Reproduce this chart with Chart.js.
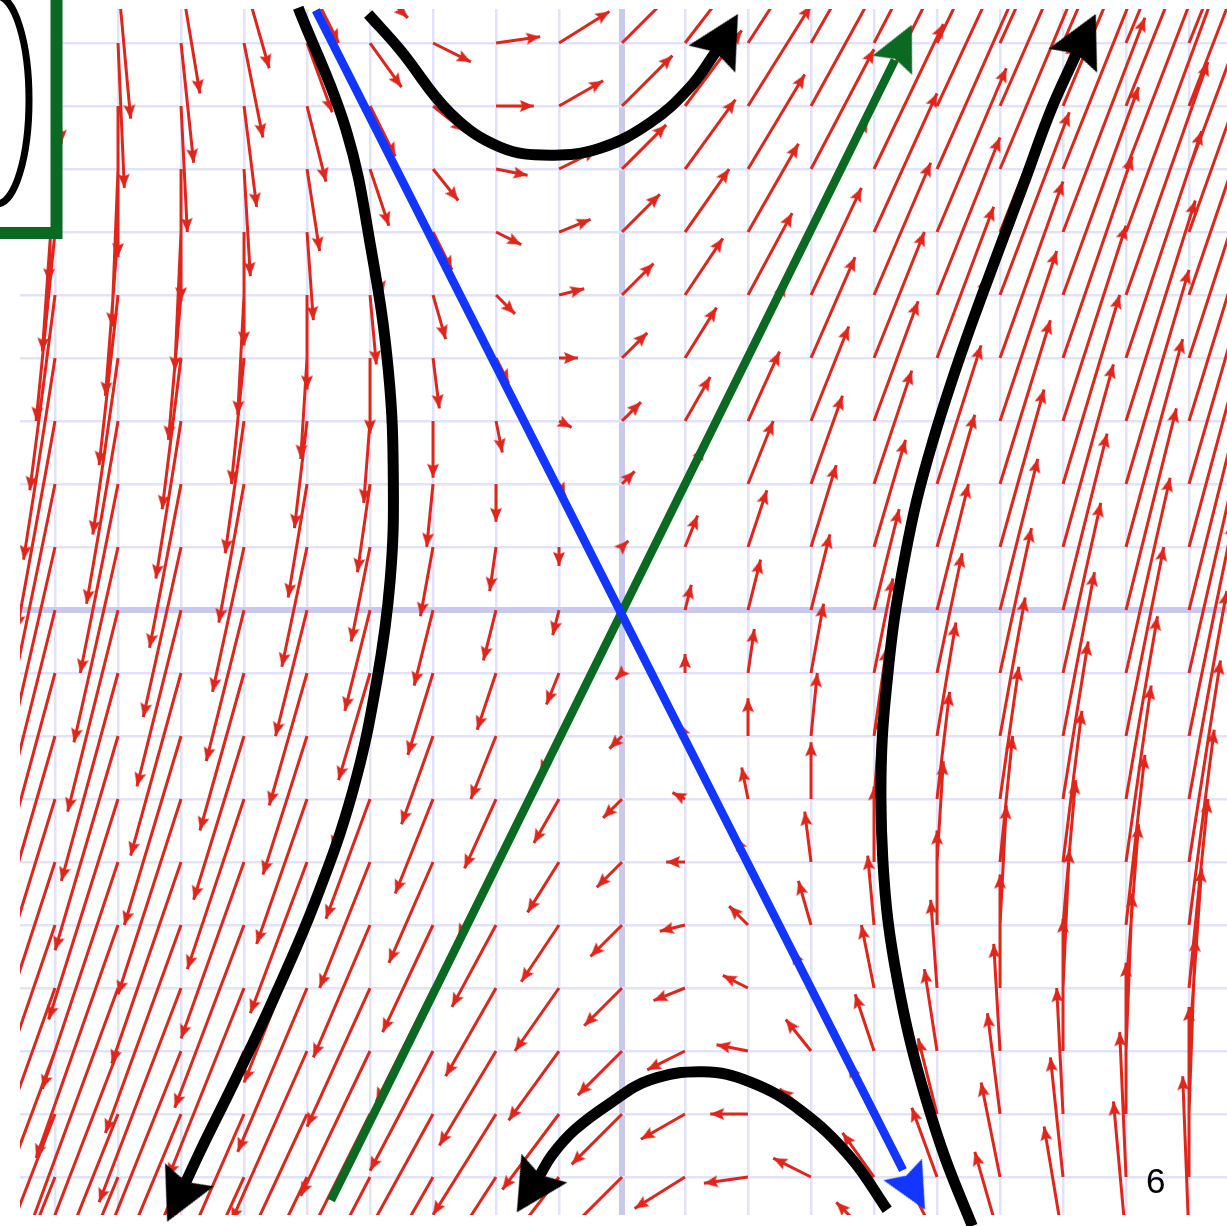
<!DOCTYPE html>
<html>
<head>
<meta charset="utf-8">
<title>Saddle point phase portrait</title>
<script src="https://cdn.jsdelivr.net/npm/chart.js@4.4.1/dist/chart.umd.min.js"></script>
<style>
  html, body { margin: 0; padding: 0; background: #ffffff; }
  canvas { display: block; }
</style>
</head>
<body>
<canvas id="phase" width="1227" height="1226"></canvas>
<script>
// Linear system x' = A x  (eigenvalues 3 and -1, eigenvectors (1,2) and (1,-2))
const systemMatrix = [[1, 1], [4, 1]];
// direction-field arrows are drawn as 0.1 * (x', y')
const arrowScale = 0.1;
// lattice of grid lines / arrow tails
const gridValues = [-10, -9, -8, -7, -6, -5, -4, -3, -2, -1, 0, 1, 2, 3, 4, 5, 6, 7, 8, 9, 10];
const xRange = [-9.556, 9.603];
const yRange = [-9.603, 9.54];

// unstable eigen-direction (green) and stable eigen-direction (blue)
const greenLine = [{ x: -4.62, y: -9.37 }, { x: 4.33, y: 8.73 }];
const greenTip = { x: 4.60, y: 9.29 };
const blueLine = [{ x: -4.86, y: 9.52 }, { x: 4.46, y: -8.89 }];
const blueTip = { x: 4.81, y: -9.52 };

// sketched trajectories
const topCurve = [
  { x: -4.03, y: 9.46 }, { x: -3.52, y: 8.89 }, { x: -2.73, y: 7.89 }, { x: -1.94, y: 7.35 },
  { x: -1.14, y: 7.22 }, { x: -0.35, y: 7.33 }, { x: 0.44, y: 7.73 }, { x: 1.08, y: 8.30 },
  { x: 1.51, y: 8.89 }
];
const topTip = { x: 1.84, y: 9.46 };

const leftCurve = [
  { x: -5.14, y: 9.56 }, { x: -4.38, y: 7.62 }, { x: -3.98, y: 5.71 }, { x: -3.71, y: 3.81 },
  { x: -3.63, y: 2.06 }, { x: -3.68, y: 0.48 }, { x: -3.89, y: -1.11 }, { x: -4.27, y: -2.86 },
  { x: -4.86, y: -4.60 }, { x: -5.54, y: -6.19 }, { x: -6.14, y: -7.46 }, { x: -6.70, y: -8.60 },
  { x: -6.95, y: -9.14 }
];
const leftTip = { x: -7.22, y: -9.71 };

const rightCurve = [
  { x: 5.56, y: -9.78 }, { x: 5.14, y: -8.73 }, { x: 4.83, y: -7.78 }, { x: 4.57, y: -6.83 },
  { x: 4.37, y: -5.87 }, { x: 4.22, y: -4.92 }, { x: 4.14, y: -3.97 }, { x: 4.11, y: -3.02 },
  { x: 4.13, y: -2.06 }, { x: 4.21, y: -1.11 }, { x: 4.32, y: -0.16 }, { x: 4.48, y: 0.79 },
  { x: 4.68, y: 1.75 }, { x: 4.94, y: 2.70 }, { x: 5.24, y: 3.65 }, { x: 5.57, y: 4.60 },
  { x: 5.98, y: 5.71 }, { x: 6.40, y: 6.83 }, { x: 6.81, y: 7.94 }, { x: 7.24, y: 8.89 }
];
const rightTip = { x: 7.52, y: 9.46 };

const bottomCurve = [
  { x: 4.21, y: -9.52 }, { x: 3.62, y: -8.68 }, { x: 2.83, y: -7.94 }, { x: 2.03, y: -7.49 },
  { x: 1.29, y: -7.33 }, { x: 0.44, y: -7.46 }, { x: -0.19, y: -7.83 }, { x: -0.75, y: -8.25 },
  { x: -1.11, y: -8.65 }, { x: -1.32, y: -9.00 }
];
const bottomTip = { x: -1.67, y: -9.56 };

// ---- build the direction field from the matrix ----
const fieldShafts = [];
const fieldHeads = [];
for (const x0 of gridValues) {
  for (const y0 of gridValues) {
    const u = systemMatrix[0][0] * x0 + systemMatrix[0][1] * y0;
    const v = systemMatrix[1][0] * x0 + systemMatrix[1][1] * y0;
    if (u === 0 && v === 0) continue;
    const x1 = x0 + arrowScale * u;
    const y1 = y0 + arrowScale * v;
    fieldShafts.push({ x: x0, y: y0 }, { x: x1, y: y1 }, { x: x1, y: null });
    fieldHeads.push({ x: x1, y: y1, dx: u, dy: v });
  }
}

// arrow tip with direction taken from the last drawn point of a path
function tipFrom(path, tip) {
  const last = path[path.length - 1];
  return { x: tip.x, y: tip.y, dx: tip.x - last.x, dy: tip.y - last.y };
}

// arrowhead sprite: tip at the sprite centre, pointing up
function headImage(color, len, wid, notch) {
  let s = Math.ceil(2 * len + 4);
  if (s % 2) s += 1;
  const cv = document.createElement('canvas');
  cv.width = s; cv.height = s;
  const g = cv.getContext('2d');
  const c = s / 2;
  g.fillStyle = color;
  g.beginPath();
  g.moveTo(c, c);
  g.lineTo(c + wid / 2, c + len);
  g.lineTo(c, c + len - notch);
  g.lineTo(c - wid / 2, c + len);
  g.closePath();
  g.fill();
  return cv;
}

const RED = '#e0251b';
const BLUE = '#1235ff';
const GREEN = '#0b6a22';
const BLACK = '#000000';

const redHead = headImage(RED, 14, 12, 2.5);
const blackHead = headImage(BLACK, 52, 54, 8);
const blueHead = headImage(BLUE, 46, 44, 7);
const greenHead = headImage(GREEN, 45, 44, 7);

function headAngle(ctx) {
  const r = ctx.raw;
  if (!r) return 0;
  const xs = ctx.chart.scales.x, ys = ctx.chart.scales.y;
  const dxp = xs.getPixelForValue(r.x) - xs.getPixelForValue(r.x - r.dx);
  const dyp = ys.getPixelForValue(r.y) - ys.getPixelForValue(r.y - r.dy);
  return Math.atan2(dxp, -dyp) * 180 / Math.PI;
}

function curveSet(data, color, width, order) {
  return {
    type: 'line', data, borderColor: color, borderWidth: width, pointRadius: 0,
    tension: 0.4, capBezierPoints: false, fill: false, clip: false, order
  };
}
function headSet(data, img, order, clip) {
  return {
    type: 'scatter', data, showLine: false, pointStyle: img, pointRadius: clip === false ? 40 : 8,
    pointRotation: headAngle, clip: clip === false ? false : undefined, order
  };
}

// page marks around the plot: framed bracket at top-left and page number
const pageMarks = {
  id: 'pageMarks',
  afterDraw(chart) {
    const g = chart.ctx;
    g.save();
    g.fillStyle = '#ffffff';
    g.fillRect(0, 0, 57, 233);
    g.strokeStyle = '#000000';
    g.lineWidth = 7;
    g.beginPath();
    g.ellipse(-3, 100, 32, 104, 0, -Math.PI / 2, Math.PI / 2);
    g.stroke();
    g.strokeStyle = GREEN;
    g.lineWidth = 12;
    g.lineJoin = 'miter';
    g.beginPath();
    g.moveTo(56.5, 0);
    g.lineTo(56.5, 233);
    g.lineTo(0, 233);
    g.stroke();
    g.fillStyle = '#000000';
    g.font = '35px "Liberation Sans", Arial, sans-serif';
    g.textBaseline = 'alphabetic';
    g.fillText('6', 1146, 1193);
    g.restore();
  }
};

function axisOptions(range) {
  return {
    type: 'linear',
    min: range[0],
    max: range[1],
    ticks: { display: false },
    border: { display: false },
    grid: {
      drawTicks: false,
      color: (c) => (c.tick && c.tick.value === 0 ? '#c8c8f1' : '#e2e2f8'),
      lineWidth: (c) => (c.tick && c.tick.value === 0 ? 6 : 2.5)
    },
    afterBuildTicks: (scale) => {
      scale.ticks = gridValues
        .filter((v) => v >= scale.min && v <= scale.max)
        .map((v) => ({ value: v }));
    }
  };
}

new Chart(document.getElementById('phase'), {
  type: 'scatter',
  data: {
    datasets: [
      headSet([tipFrom(topCurve, topTip), tipFrom(leftCurve, leftTip),
               tipFrom(rightCurve, rightTip), tipFrom(bottomCurve, bottomTip)], blackHead, 0, false),
      curveSet(topCurve, BLACK, 11, 1),
      curveSet(leftCurve, BLACK, 11, 1),
      curveSet(rightCurve, BLACK, 11, 1),
      curveSet(bottomCurve, BLACK, 11, 1),
      headSet([tipFrom(blueLine, blueTip)], blueHead, 2, false),
      curveSet(blueLine, BLUE, 8.5, 3),
      headSet([tipFrom(greenLine, greenTip)], greenHead, 4, false),
      curveSet(greenLine, GREEN, 8.5, 5),
      headSet(fieldHeads, redHead, 10),
      {
        type: 'line', data: fieldShafts, borderColor: RED, borderWidth: 3,
        pointRadius: 0, tension: 0, spanGaps: false, fill: false, order: 11
      }
    ]
  },
  options: {
    responsive: false,
    animation: false,
    devicePixelRatio: 1,
    events: [],
    layout: { autoPadding: false, padding: { left: 20, right: 0, top: 9, bottom: 11 } },
    plugins: { legend: { display: false }, tooltip: { enabled: false }, title: { display: false } },
    scales: { x: axisOptions(xRange), y: axisOptions(yRange) }
  },
  plugins: [pageMarks]
});
</script>
</body>
</html>
